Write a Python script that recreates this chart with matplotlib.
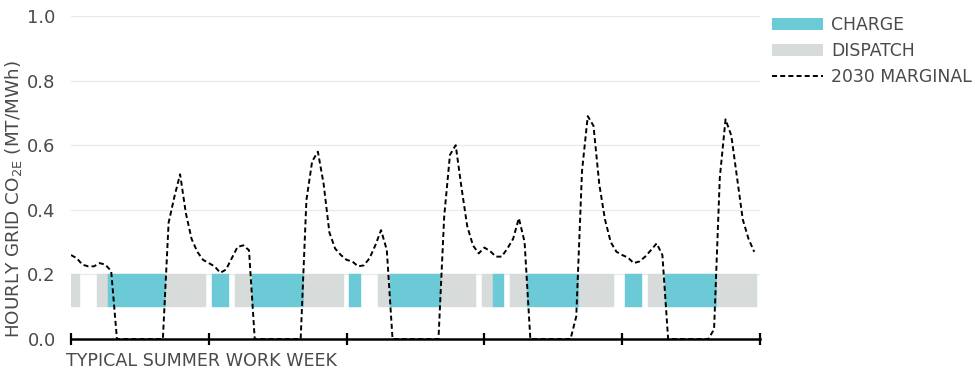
import matplotlib
matplotlib.use("Agg")
import matplotlib.pyplot as plt
from matplotlib.patches import Patch
from matplotlib.lines import Line2D

# Hourly 2030 marginal grid emissions, MT CO2e / MWh (5 weekdays x 24 h)
marginal = [
    0.26, 0.25, 0.23, 0.225, 0.225, 0.235, 0.23, 0.21,
    0, 0, 0, 0, 0, 0, 0, 0, 0,
    0.36, 0.44, 0.51, 0.39, 0.31, 0.27, 0.245,
    0.235, 0.225, 0.205, 0.215, 0.25, 0.285, 0.29, 0.275,
    0, 0, 0, 0, 0, 0, 0, 0, 0,
    0.43, 0.55, 0.58, 0.48, 0.33, 0.28, 0.26,
    0.245, 0.24, 0.225, 0.228, 0.25, 0.29, 0.337, 0.276,
    0, 0, 0, 0, 0, 0, 0, 0, 0,
    0.38, 0.57, 0.6, 0.47, 0.35, 0.29, 0.265,
    0.283, 0.272, 0.255, 0.255, 0.28, 0.31, 0.374, 0.3,
    0, 0, 0, 0, 0, 0, 0, 0,
    0.07, 0.52, 0.69, 0.66, 0.48, 0.37, 0.3, 0.27,
    0.26, 0.252, 0.235, 0.24, 0.255, 0.275, 0.296, 0.26,
    0, 0, 0, 0, 0, 0, 0, 0,
    0.03, 0.5, 0.68, 0.63, 0.5, 0.37, 0.31, 0.27,
]

# Battery state per hour: C = charge, D = dispatch, . = idle
schedule = [
    "DD...DDCCCCCCCCCCDDDDDDD",
    ".CCC.DDDCCCCCCCCCDDDDDDD",
    ".CC...DDCCCCCCCCCDDDDDD.",
    "DDCC.DDDCCCCCCCCCDDDDDD.",
    ".CCC.DDDCCCCCCCCCDDDDDDD",
]

band_low, band_high = 0.1, 0.2
day_ticks = [0, 24, 48, 72, 96, 120]

CHARGE = "#6cc9d6"
DISPATCH = "#d7dbda"
TEXT = "#4a4a4a"

states = "".join(schedule)
hours = list(range(len(marginal)))

fig = plt.figure(figsize=(9.75, 3.75), dpi=100)
ax = fig.add_axes([71 / 975, 1 - 339 / 375, (760 - 71) / 975, (339 - 16) / 375])

for h, s in zip(hours, states):
    if s == ".":
        continue
    c = CHARGE if s == "C" else DISPATCH
    ax.bar(h, band_high - band_low, bottom=band_low, width=1.0,
           color=c, edgecolor=c, linewidth=0.3, zorder=2)

ax.plot(hours, marginal, color="black", linewidth=1.4,
        linestyle=(0, (2.6, 1.6)), zorder=3)

ax.set_xlim(0, 120)
ax.set_ylim(0, 1.0)
ax.set_xticks(day_ticks)
ax.set_xticklabels([])
ax.set_yticks([0.0, 0.2, 0.4, 0.6, 0.8, 1.0])
ax.set_yticklabels(["0.0", "0.2", "0.4", "0.6", "0.8", "1.0"])

for y in [0.2, 0.4, 0.6, 0.8, 1.0]:
    ax.axhline(y, color="#e9e9e9", linewidth=0.9, zorder=0)

for side in ["top", "right", "left"]:
    ax.spines[side].set_visible(False)
ax.spines["bottom"].set_linewidth(1.8)
ax.spines["bottom"].set_color("black")
ax.spines["bottom"].set_zorder(4)

ax.tick_params(axis="x", direction="inout", length=9, width=1.6, color="black")
ax.tick_params(axis="y", length=0, pad=11, labelsize=13, labelcolor=TEXT)

ax.set_ylabel("HOURLY GRID CO$_{\\mathregular{2E}}$ (MT/MWh)",
              fontsize=13.2, color=TEXT)
ax.yaxis.set_label_coords(-0.068, 0.432)
fig.text(66 / 975, 1 - 361 / 375, "TYPICAL SUMMER WORK WEEK",
         fontsize=12.6, color=TEXT, ha="left", va="center")

handles = [
    Patch(facecolor=CHARGE, edgecolor="none"),
    Patch(facecolor=DISPATCH, edgecolor="none"),
    Line2D([0], [0], color="black", linewidth=1.4, linestyle=(0, (2.6, 1.6))),
]
fig.legend(handles, ["CHARGE", "DISPATCH", "2030 MARGINAL"],
           loc="upper left", bbox_to_anchor=(756 / 975, 1 - 1 / 375),
           frameon=False, fontsize=12.4, handlelength=3.0, handletextpad=0.45,
           labelspacing=0.45, labelcolor=TEXT)

fig.savefig("out.png", dpi=100)
